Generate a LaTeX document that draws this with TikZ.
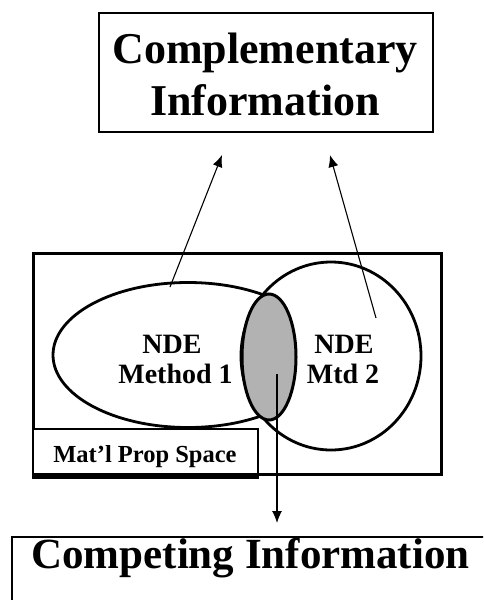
\documentclass[tikz,border=0pt]{standalone}
\usepackage{fontspec}
\setmainfont{Liberation Serif}
\usetikzlibrary{shapes.geometric,arrows.meta}
\begin{document}
\begin{tikzpicture}[x=1pt,y=-1pt,
  thinbox/.style={draw, line width=1.3pt, inner sep=0pt},
  blob/.style={ellipse, draw, fill=white, line width=2.8pt, inner sep=0pt},
  bigtxt/.style={inner sep=0pt, anchor=base, font=\bfseries\fontsize{44}{52}\selectfont},
  midtxt/.style={inner sep=0pt, anchor=base, font=\bfseries\fontsize{28}{30}\selectfont},
  smalltxt/.style={inner sep=0pt, anchor=base, font=\bfseries\fontsize{24.5}{26}\selectfont},
  conn/.style={line width=1.1pt, -{Latex[length=12pt,width=10pt]}}
]
\useasboundingbox (0,0) rectangle (483,600);
\clip (0,0) rectangle (483,600);
\fill[white] (0,0) rectangle (483,600);

% top box
\node[thinbox, minimum width=334pt, minimum height=119pt] (ci) at (266,72.5) {};
\node[bigtxt] (ci1) at (265,63) {Complementary};
\node[bigtxt] (ci2) at (265,115) {Information};

% property space
\node[draw, line width=3pt, inner sep=0pt, minimum width=408pt, minimum height=221pt] (space) at (237,363.5) {};

% ellipses
\node[blob, minimum width=270pt, minimum height=145pt] (m1) at (188,355) {};
\node[blob, minimum width=180pt, minimum height=188pt] (m2) at (331,356) {};
\node[blob, fill=black!30, line width=3pt, minimum width=54pt, minimum height=126pt] (ov) at (269,357) {};

\node[midtxt] (m1a) at (172,353) {NDE};
\node[midtxt] (m1b) at (175.5,383) {Method 1};
\node[midtxt] (m2a) at (344,353) {NDE};
\node[midtxt] (m2b) at (343,383) {Mtd 2};

% material property space label
\node[draw, line width=2.5pt, fill=white, inner sep=0pt, minimum width=225pt, minimum height=45pt] (mp) at (145.5,451.5) {};
\draw[line width=6pt] ([yshift=-1pt]mp.south west) -- ([yshift=-1pt]mp.south east);
\node[smalltxt] (mpt) at (145,462) {Mat’l Prop Space};

% bottom box
\node[thinbox, minimum width=483pt, minimum height=78pt] (cmp) at (253.5,576) {};
\node[bigtxt, font=\bfseries\fontsize{43}{50}\selectfont] (cmpt) at (250.5,568) {Competing Information};

% connectors
\coordinate (a1s) at (170,287);
\coordinate (a1t) at (222,155);
\coordinate (a2s) at (376,318);
\coordinate (a2t) at (330,155);
\coordinate (a3s) at (277,374);
\coordinate (a3t) at (277,523);
\draw[conn] (a1s) -- (a1t);
\draw[conn] (a2s) -- (a2t);
\draw[conn] (a3s) -- (a3t);
\end{tikzpicture}
\end{document}
